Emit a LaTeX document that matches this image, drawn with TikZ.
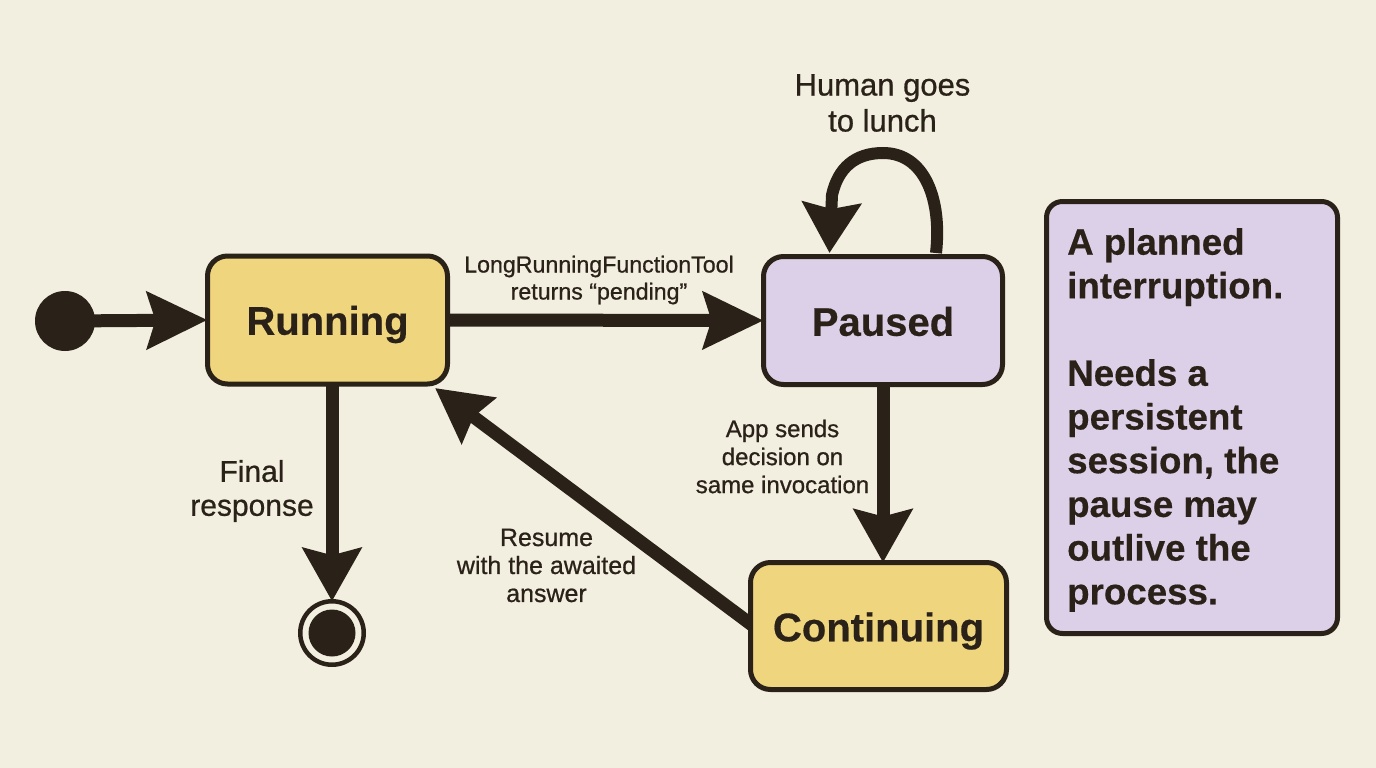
\documentclass[tikz,border=0pt]{standalone}
\usepackage{fontspec}
\setmainfont{Liberation Sans}[BoldFeatures={FakeBold=0.4}]
\newfontfamily\lab{Liberation Sans}[FakeBold=0.7]
\usetikzlibrary{arrows.meta}
\definecolor{paper}{HTML}{F2EEE0}
\definecolor{ink}{HTML}{2A2118}
\definecolor{gold}{HTML}{F0D57F}
\definecolor{lilac}{HTML}{DCCFE8}
\newcommand{\fs}[2]{\fontsize{#1}{#2}\selectfont}
\pgfdeclarelayer{back}
\pgfsetlayers{back,main}
\tikzset{
  x=1pt,y=-1pt,
  state/.style={draw=ink,line width=5pt,rounded corners=20pt,inner sep=0pt,outer sep=0pt},
  statetext/.style={text=ink,font=\fs{40}{44}\bfseries,inner sep=0pt,outer sep=0pt},
  conn/.style={draw=ink,line width=13pt,-{Stealth[length=60pt,width=56pt,inset=8pt]}},
  connshort/.style={draw=ink,line width=13pt,-{Stealth[length=53pt,width=58pt,inset=7pt]}},
  elabel/.style={text=ink,align=center,inner sep=0pt},
  dot/.style={circle,fill=ink,inner sep=0pt,outer sep=0pt},
}
\begin{document}
\begin{tikzpicture}
\begin{pgfonlayer}{back}
\useasboundingbox[fill=paper] (0,0) rectangle (1376,768);
\end{pgfonlayer}
\node[dot,minimum size=60pt] (start) at (65,321) {};
\node[state,fill=gold,minimum width=240pt,minimum height=128pt] (run) at (327.5,320) {};
\node[statetext] (runtext) at (327.5,324.5) {Running};
\node[state,fill=lilac,minimum width=239pt,minimum height=128pt] (pause) at (883,320.5) {};
\node[statetext] (pausetext) at (883,321.5) {Paused};
\node[state,fill=gold,minimum width=256pt,minimum height=127pt] (cont) at (878.5,626) {};
\node[statetext] (conttext) at (878.5,631) {Continuing};
\node[circle,draw=ink,line width=4.5pt,minimum size=63.5pt,inner sep=0pt,outer sep=0pt] (final) at (332,633) {};
\node[dot,minimum size=47pt] (finalin) at (332,633) {};
\node[state,fill=lilac,minimum width=291pt,minimum height=432pt,rounded corners=16pt] (note) at (1192,417.5) {};
\node[anchor=west,text=ink,font=\fs{36.7}{43.7}\bfseries,align=left,inner sep=0pt] (notetext) at (1067,420) {A planned\\interruption.\\\mbox{}\\Needs a\\persistent\\session, the\\pause may\\outlive the\\process.};
\coordinate (rtip) at (435,388);
\coordinate (crun) at (760,631);
\coordinate (lout) at (936,253);
\coordinate (lin) at (829.5,253);
\coordinate (lbend) at (832,195);
\begin{pgfonlayer}{back}
\draw[conn] (start.center) -- (run.west);
\draw[connshort,-{Stealth[length=54pt,width=56pt,inset=6pt]}] (crun) -- (rtip);
\end{pgfonlayer}
\draw[conn] (run.east) -- (pause.west);
\draw[connshort] (run.south -| final) -- (final.north);
\draw[connshort] (pause.south) -- (pause.south |- cont.north);
\draw[connshort,line width=12pt,-{Stealth[length=50pt,width=58pt,inset=6pt]}] (lout) .. controls (942,200) and (925,153) .. (883,153) .. controls (855,153) and (838,168) .. (lbend) -- (lin);
\node[elabel,font=\lab\fs{31}{36}] (lunch) at (882.5,103) {Human goes\\to lunch};
\node[elabel,font=\lab\fs{23.2}{27}] (pending) at (599,280) {LongRunningFunctionTool\\returns “pending”};
\node[elabel,font=\lab\fs{30}{34}] (finalr) at (252,491) {Final\\response};
\node[elabel,font=\lab\fs{25}{28}] (resume) at (546.5,565.5) {Resume\\with the awaited\\answer};
\node[elabel,font=\lab\fs{24}{28}] (sends) at (782.5,456.5) {App sends\\decision on\\same invocation};
\end{tikzpicture}
\end{document}
